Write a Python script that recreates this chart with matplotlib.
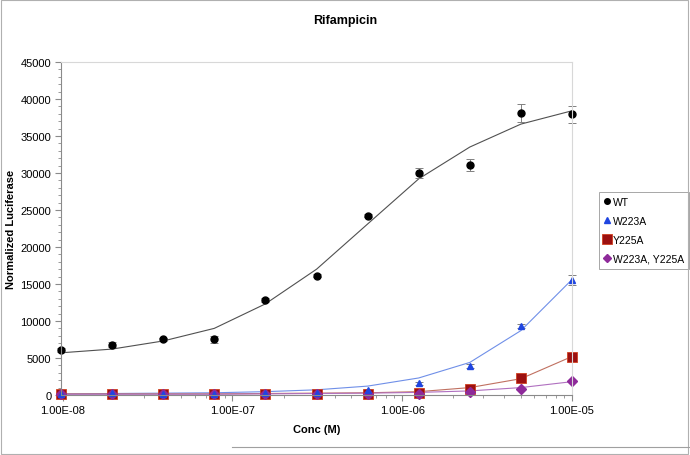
import matplotlib
matplotlib.use("Agg")
import matplotlib.pyplot as plt
import numpy as np
from matplotlib.lines import Line2D
from matplotlib.ticker import FixedLocator, FuncFormatter, LogLocator, MultipleLocator

plt.rcParams['font.family'] = ['Liberation Sans', 'DejaVu Sans']

conc = [9.77e-9, 1.95e-8, 3.91e-8, 7.81e-8, 1.56e-7, 3.13e-7, 6.25e-7, 1.25e-6, 2.5e-6, 5e-6, 1e-5]

wt = [6100, 6800, 7500, 7500, 12800, 16100, 24200, 30000, 31100, 38100, 37900]
wt_err = [250, 300, 250, 450, 300, 200, 200, 700, 800, 1200, 1200]
wt_fit = [5700, 6200, 7300, 9000, 12300, 17000, 23100, 29200, 33500, 36600, 38400]

w223a = [100, 250, 100, 150, 250, 300, 650, 1600, 3900, 9300, 15500]
w223a_err = [50, 50, 50, 50, 50, 50, 100, 200, 250, 300, 700]
w223a_fit = [150, 200, 250, 300, 450, 700, 1200, 2300, 4400, 8700, 15600]

y225a = [100, 200, 100, 100, 150, 150, 200, 300, 800, 2300, 5200]
y225a_fit = [150, 150, 150, 150, 200, 250, 300, 450, 1000, 2200, 5200]

dbl = [100, 150, 100, 100, 150, 100, 150, 200, 400, 800, 1900]
dbl_fit = [100, 100, 100, 100, 150, 200, 250, 350, 550, 1000, 1800]

labels = ['WT', 'W223A', 'Y225A', 'W223A, Y225A']

fig = plt.figure(figsize=(6.9, 4.56), dpi=100)
ax = fig.add_axes([0.0884, 0.1316, 0.7406, 0.7304])

# fitted curves
ax.plot(conc, wt_fit, color='#505050', lw=0.8)
ax.plot(conc, w223a_fit, color='#6f8fe8', lw=0.8)
ax.plot(conc, y225a_fit, color='#c07060', lw=0.8)
ax.plot(conc, dbl_fit, color='#b070c0', lw=0.8)

# data points
ax.errorbar(conc, wt, yerr=wt_err, fmt='o', color='black', ms=5,
            ecolor='#808080', elinewidth=0.7, capsize=3, capthick=0.7, clip_on=False)
ax.errorbar(conc, w223a, yerr=w223a_err, fmt='^', color='#1f45e0', ms=4.5,
            ecolor='#808080', elinewidth=0.7, capsize=3, capthick=0.7, clip_on=False)
ax.plot(conc, y225a, 's', color='#9c1010', mec='#d04020', mew=0.6, ms=7.5, clip_on=False)
ax.plot(conc, dbl, 'D', color='#8e2a9a', ms=5.5, clip_on=False)

ax.set_xscale('log')
ax.set_xlim(9.77e-9, 1e-5)
ax.set_ylim(0, 45000)
ax.xaxis.set_major_locator(FixedLocator([1e-8, 1e-7, 1e-6, 1e-5]))
ax.xaxis.set_major_formatter(FuncFormatter(lambda v, p: '%.2E' % v))
ax.xaxis.set_minor_locator(LogLocator(base=10, subs=np.arange(2, 10)))
ax.yaxis.set_major_locator(MultipleLocator(5000))
ax.yaxis.set_minor_locator(MultipleLocator(1000))

for s in ['left', 'bottom']:
    ax.spines[s].set_color('#8a8a8a')
    ax.spines[s].set_linewidth(0.8)
for s in ['top', 'right']:
    ax.spines[s].set_color('#d8d8d8')
    ax.spines[s].set_linewidth(0.8)

ax.tick_params(which='major', direction='out', length=4, color='#8a8a8a', labelsize=8, pad=3)
ax.tick_params(which='minor', direction='out', length=2, color='#8a8a8a')

fig.text(0.5, 1 - 21 / 456, 'Rifampicin', fontsize=9, fontweight='bold', ha='center', va='center')
ax.set_xlabel('Conc (M)', fontsize=8, fontweight='bold', labelpad=7)
ax.set_ylabel('Normalized Luciferase', fontsize=8, fontweight='bold')
ax.yaxis.set_label_coords(-0.088, 0.5)

handles = [
    Line2D([], [], ls='none', marker='o', color='black', ms=4),
    Line2D([], [], ls='none', marker='^', color='#1f45e0', ms=4),
    Line2D([], [], ls='none', marker='s', color='#9c1010', mec='#d04020', mew=0.6, ms=7),
    Line2D([], [], ls='none', marker='D', color='#8e2a9a', ms=4),
]
leg = ax.legend(handles, labels, loc='upper left', bbox_to_anchor=(1.053, 0.61),
                fontsize=7.5, frameon=True, fancybox=False, edgecolor='#909090',
                handlelength=0.6, handletextpad=0.2, borderpad=0.5, labelspacing=0.85,
                borderaxespad=0)
leg.get_frame().set_linewidth(0.7)

# outer chart border
fig.add_artist(plt.Rectangle((0.002, 0.003), 0.995, 0.994, transform=fig.transFigure,
                             fill=False, edgecolor='#b0b0b0', lw=0.8))
fig.add_artist(plt.Line2D([232 / 690, 1], [8 / 456, 8 / 456], transform=fig.transFigure,
                          color='#a0a0a0', lw=0.8))

fig.savefig('out.png', dpi=100)
